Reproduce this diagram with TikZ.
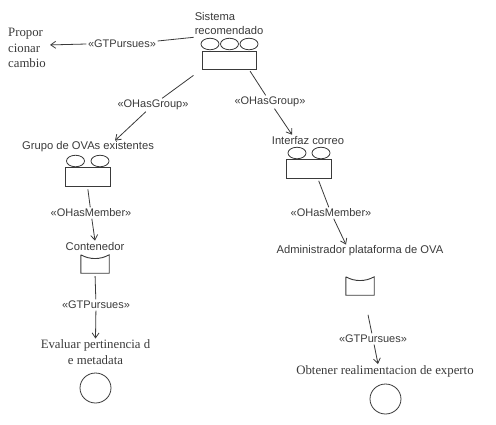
\documentclass[tikz,border=0pt]{standalone}
\usepackage{fontspec}
\setmainfont{Liberation Sans}
\newfontfamily\serifface{Liberation Serif}
\usetikzlibrary{arrows.meta,shapes.geometric}
\definecolor{inkc}{HTML}{3A3A3A}
\tikzset{
  lab/.style={font=\fontsize{11.2}{14}\selectfont,text=inkc,inner sep=1pt,align=center},
  goaltext/.style={font=\serifface\fontsize{12.8}{15.5}\selectfont,text=inkc,inner sep=1pt,align=center},
  rel/.style={font=\fontsize{11}{12}\selectfont,text=inkc,inner sep=1.5pt},
  grpbox/.style={draw=inkc,line width=0.9pt,rectangle,inner sep=0pt},
  oval/.style={draw=inkc,line width=0.8pt,ellipse,inner sep=0pt,minimum width=18pt,minimum height=11.5pt},
  goalc/.style={draw=inkc,line width=0.8pt,ellipse,inner sep=0pt,minimum width=31pt,minimum height=30pt},
  pocket/.style={rectangle,inner sep=0pt,minimum width=28pt,minimum height=18pt},
  pocketline/.style={draw=inkc,line width=0.9pt},
  conn/.style={draw=inkc,line width=0.8pt},
  arr/.style={conn,-{Straight Barb[length=5pt,width=7pt]}}
}
\begin{document}
\begin{tikzpicture}[x=1pt,y=-1pt]
\useasboundingbox (0,0) rectangle (496,424);
% Sistema recomendado
\node[lab,align=left] (sysT) at (229,23) {Sistema\\recomendado};
\node[oval] (s1) at (210,44) {};
\node[oval] (s2) at (229.5,44) {};
\node[oval] (s3) at (249,44) {};
\node[grpbox,minimum width=54pt,minimum height=18pt] (sysB) at (229,60) {};
% Proporcionar cambio
\node[goaltext,align=left] (prop) at (27,48) {Propor\\cionar\\cambio};
% Grupo
\node[lab] (grpT) at (88,147) {Grupo de OVAs existentes};
\node[oval] (g1) at (75.5,161) {};
\node[oval] (g2) at (100,161) {};
\node[grpbox,minimum width=45pt,minimum height=19pt] (grpB) at (87.5,176.5) {};
% Contenedor
\node[lab] (conT) at (95,246) {Contenedor};
\node[pocket] (conP) at (95,264) {};
% Evaluar
\node[goaltext] (evaT) at (95.5,352) {Evaluar pertinencia d\\e metadata};
\node[goalc] (evaC) at (95.5,388) {};
% Interfaz
\node[lab] (intT) at (308,140) {Interfaz correo};
\node[oval] (i1) at (297,153) {};
\node[oval] (i2) at (321,153) {};
\node[grpbox,minimum width=45pt,minimum height=19pt] (intB) at (309,169) {};
% Administrador
\node[lab] (admT) at (360,251) {Administrador plataforma de OVA};
\node[pocket] (admP) at (360,286) {};
% Obtener
\node[goaltext] (obtT) at (385,371) {Obtener realimentacion de experto};
\node[goalc] (obtC) at (385.5,399) {};
% Pockets
\foreach \p in {conP,admP}{
  \draw[pocketline] (\p.north west) -- (\p.south west) -- (\p.south east) -- (\p.north east)
    .. controls ([xshift=-9pt,yshift=-5pt]\p.north east) and ([xshift=9pt,yshift=-5pt]\p.north west) .. (\p.north west);
}
% Relation labels
\node[rel] (r1) at (122,44) {«GTPursues»};
\node[rel] (r2) at (153,105) {«OHasGroup»};
\node[rel] (r3) at (270,102) {«OHasGroup»};
\node[rel] (r4) at (91,213) {«OHasMember»};
\node[rel] (r5) at (96,305) {«GTPursues»};
\node[rel] (r6) at (331,213) {«OHasMember»};
\node[rel] (r7) at (373,339) {«GTPursues»};
% Connectors
\draw[conn] ([yshift=-2pt]sysT.south west) -- ([yshift=3pt]r1.east);
\draw[arr,shorten >=3pt] (r1.west) -- ([yshift=3pt]prop.east);
\draw[conn,shorten <=10pt] (sysB.south west) -- (r2);
\draw[arr] (r2) -- ([xshift=27pt]grpT.north);
\draw[conn,shorten <=2pt] ([xshift=20pt]sysB.south) -- (r3);
\draw[arr] (r3) -- ([xshift=-16pt]intT.north);
\draw[conn,shorten <=3pt] (grpB.south) -- (r4);
\draw[arr] (r4) -- (conT.north);
\draw[conn,shorten <=3pt] (conP.south) -- (r5);
\draw[arr] (r5) -- (evaT.north);
\draw[conn,shorten <=2pt] ([xshift=9pt]intB.south) -- (r6);
\draw[arr] (r6) -- ([xshift=-14pt]admT.north);
\draw[conn,shorten <=20pt] ([xshift=4pt]admP.south) -- (r7);
\draw[arr] (r7) -- ([xshift=-7pt]obtT.north);
\end{tikzpicture}
\end{document}
